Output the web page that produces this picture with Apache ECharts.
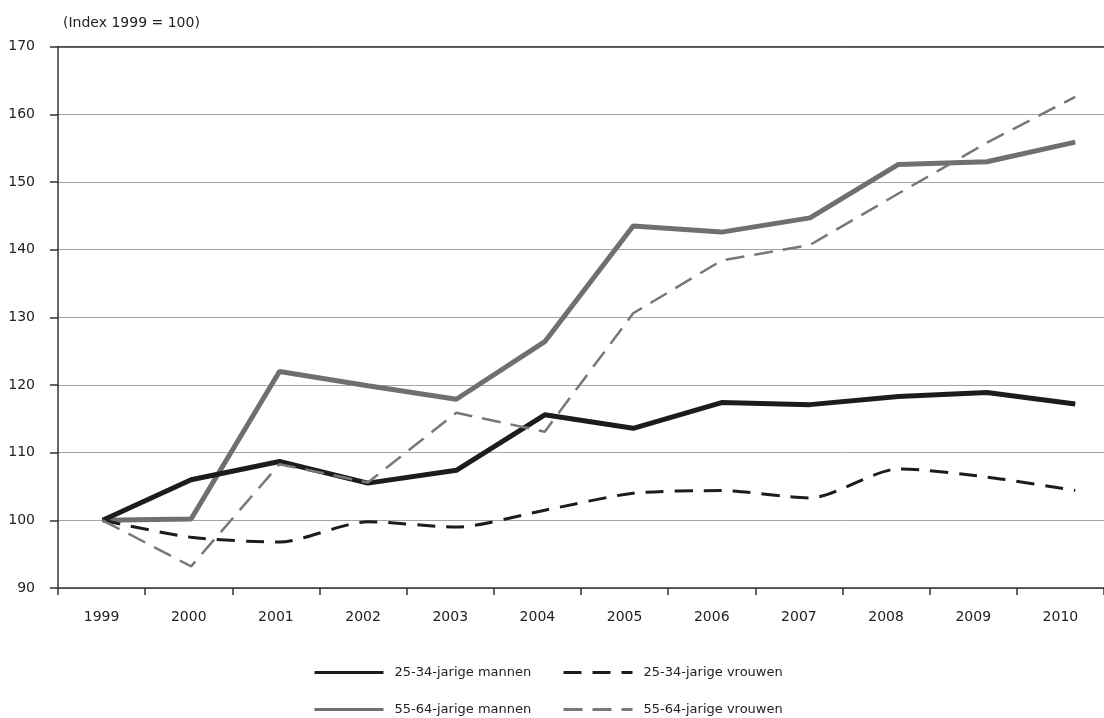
<!DOCTYPE html>
<html>
<head>
<meta charset="utf-8">
<script src="https://cdn.jsdelivr.net/npm/echarts@6/dist/echarts.min.js"></script>
<style>
html,body{margin:0;padding:0;background:#fff;}
#chart{width:1104px;height:718px;}
</style>
</head>
<body>
<div id="chart"></div>
<script>
const years = [1999,2000,2001,2002,2003,2004,2005,2006,2007,2008,2009,2010];
const yTicks = {min: 90, max: 170, interval: 10};
const unitLabel = '(Index 1999 = 100)';

const names = ['25-34-jarige mannen','25-34-jarige vrouwen','55-64-jarige mannen','55-64-jarige vrouwen'];
const men2534   = [100, 106.0, 108.7, 105.5, 107.4, 115.6, 113.6, 117.4, 117.1, 118.3, 118.9, 117.2];
const women2534 = [100, 97.5, 96.8, 99.8, 99.0, 101.5, 104.0, 104.4, 103.3, 107.6, 106.4, 104.4];
const men5564   = [100, 100.2, 122.0, 119.9, 117.9, 126.4, 143.5, 142.6, 144.7, 152.6, 153.0, 155.9];
const women5564 = [100, 93.2, 108.3, 105.6, 115.9, 113.1, 130.6, 138.4, 140.7, 148.3, 155.8, 162.6];

const pair = arr => years.map((y,i)=>[y, arr[i]]);
const FONT = 'DejaVu Sans';
const chart = echarts.init(document.getElementById('chart'));

chart.setOption({
  animation: false,
  backgroundColor: '#fff',
  textStyle: {fontFamily: FONT},
  title: {
    text: unitLabel, left: 58, top: 11,
    textStyle: {fontSize: 14, fontWeight: 'normal', color: '#222', fontFamily: FONT}
  },
  grid: {left: 58, right: -8, top: 46.7, bottom: 130},
  legend: [
    {data:[names[0]], left: 313, top: 666},
    {data:[names[1]], left: 562, top: 666},
    {data:[names[2]], left: 313, top: 703},
    {data:[names[3]], left: 562, top: 703}
  ].map(l => Object.assign({
    orient: 'horizontal', padding: 0, itemWidth: 69, itemHeight: 14,
    textStyle: {fontSize: 13, color: '#222', fontFamily: FONT, padding: [0,0,0,6]},
    itemStyle: {opacity: 0},
    lineStyle: {width: 3}
  }, l)),
  xAxis: [
    {
      type: 'category', data: years, boundaryGap: true, position: 'bottom',
      axisLine: {lineStyle: {color: '#333', width: 1.5}},
      axisTick: {show: true, inside: false, length: 7, lineStyle: {color: '#333', width: 1.5}},
      axisLabel: {fontSize: 14, color: '#222', margin: 22, fontFamily: FONT},
      splitLine: {show: false}
    },
    {
      type: 'value', position: 'top', min: 1998.495, max: 2010.325,
      axisLine: {show: true, onZero: false, lineStyle: {color: '#333', width: 1.5}},
      axisTick: {show: false}, axisLabel: {show: false}, splitLine: {show: false}
    }
  ],
  yAxis: {
    type: 'value', min: yTicks.min, max: yTicks.max, interval: yTicks.interval,
    axisLine: {show: true, lineStyle: {color: '#333', width: 1.5}},
    axisTick: {show: true, inside: false, length: 8, lineStyle: {color: '#333', width: 1.5}},
    axisLabel: {fontSize: 14, color: '#222', margin: 23, fontFamily: FONT},
    splitLine: {show: true, lineStyle: {color: '#a4a4a4', width: 1}}
  },
  series: [
    {name: names[0], type: 'line', xAxisIndex: 1, data: pair(men2534), symbol: 'none',
     lineStyle: {color: '#1c1c1c', width: 5}, itemStyle: {color: '#1c1c1c'}, z: 4},
    {name: names[1], type: 'line', xAxisIndex: 1, data: pair(women2534), symbol: 'none', smooth: 0.25,
     lineStyle: {color: '#1c1c1c', width: 3, type: [18, 11]}, itemStyle: {color: '#1c1c1c'}, z: 3},
    {name: names[2], type: 'line', xAxisIndex: 1, data: pair(men5564), symbol: 'none',
     lineStyle: {color: '#6f6f71', width: 5}, itemStyle: {color: '#6f6f71'}, z: 2},
    {name: names[3], type: 'line', xAxisIndex: 1, data: pair(women5564), symbol: 'none',
     lineStyle: {color: '#78787a', width: 2.5, type: [19, 10]}, itemStyle: {color: '#78787a'}, z: 5}
  ]
});
</script>
</body>
</html>
